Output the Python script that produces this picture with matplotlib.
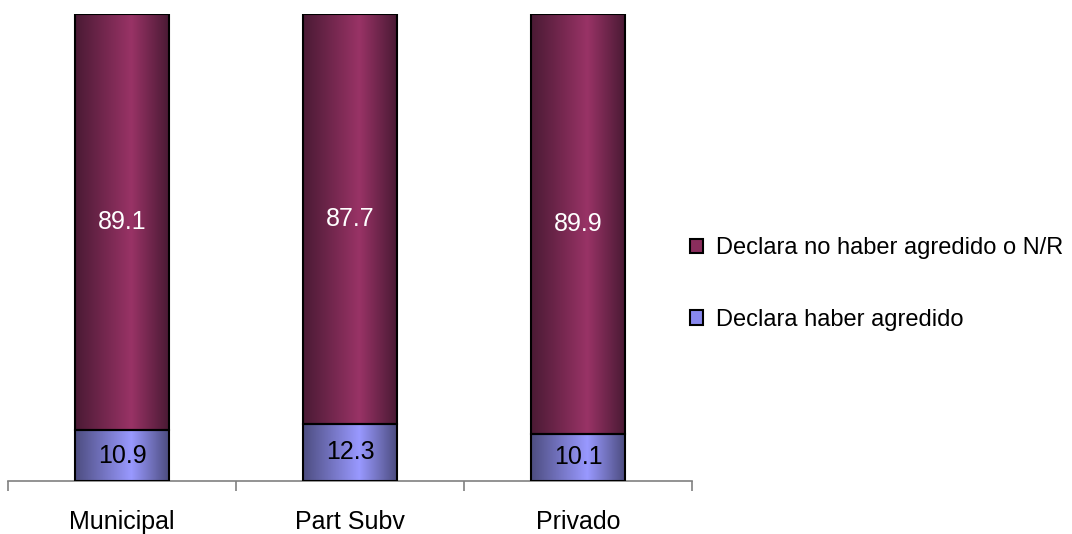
import numpy as np
import matplotlib
matplotlib.use("Agg")
import matplotlib.pyplot as plt
from matplotlib.colors import LinearSegmentedColormap
from matplotlib.patches import Patch

plt.rcParams["font.family"] = ["Liberation Sans", "DejaVu Sans"]

categories = ["Municipal", "Part Subv", "Privado"]
agredido = [10.9, 12.3, 10.1]
no_agredido = [89.1, 87.7, 89.9]
labels = ["Declara no haber agredido o N/R", "Declara haber agredido"]

# edge -> highlight -> edge, like a lit cylinder
maroon = LinearSegmentedColormap.from_list(
    "maroon", [(0, "#4a1a34"), (0.6, "#993366"), (1, "#4a1a34")])
blue = LinearSegmentedColormap.from_list(
    "blue", [(0, "#4d4d80"), (0.6, "#9999ff"), (1, "#4d4d80")])

W, H = 1072, 534
fig = plt.figure(figsize=(W / 100, H / 100), dpi=100)
ax = fig.add_axes([8 / W, (H - 481) / H, 684 / W, 467 / H])

x = np.arange(len(categories))
width = 0.41
bottom_bars = ax.bar(x, agredido, width, color="none", edgecolor="black",
                     linewidth=1.5, zorder=3)
top_bars = ax.bar(x, no_agredido, width, bottom=agredido, color="none",
                  edgecolor="black", linewidth=1.5, zorder=3)

grad = np.linspace(0, 1, 256).reshape(1, -1)
for bars, cmap in [(bottom_bars, blue), (top_bars, maroon)]:
    for p in bars:
        x0, y0 = p.get_x(), p.get_y()
        ax.imshow(grad, cmap=cmap, aspect="auto", zorder=2,
                  extent=(x0, x0 + p.get_width(), y0, y0 + p.get_height()))

for i in range(len(categories)):
    ax.text(x[i], agredido[i] / 2, f"{agredido[i]:.1f}", ha="center",
            va="center", fontsize=18, color="black", zorder=4)
    ax.text(x[i], agredido[i] + no_agredido[i] / 2, f"{no_agredido[i]:.1f}",
            ha="center", va="center", fontsize=18, color="white", zorder=4)

ax.set_xlim(-0.5, len(categories) - 0.5)
ax.set_ylim(0, 100)
for s in ["left", "right", "top"]:
    ax.spines[s].set_visible(False)
ax.spines["bottom"].set_color("#808080")
ax.spines["bottom"].set_linewidth(1.2)
ax.set_yticks([])
ax.set_xticks(np.arange(len(categories) + 1) - 0.5)
ax.set_xticklabels([])
ax.tick_params(axis="x", length=7, width=1.2, color="#808080", direction="out")
for i, c in enumerate(categories):
    ax.text(x[i], -6.2, c, ha="center", va="top", fontsize=18)

handles = [Patch(facecolor="#8a2d5c", edgecolor="black", linewidth=1.5),
           Patch(facecolor="#8888ee", edgecolor="black", linewidth=1.5)]
fig.legend(handles, labels, loc="center left", bbox_to_anchor=(669 / W, 1 - 284 / H),
           frameon=False, fontsize=17, handlelength=0.55, handleheight=0.55,
           handletextpad=0.55, labelspacing=2.1)

fig.savefig("out.png", dpi=100)
